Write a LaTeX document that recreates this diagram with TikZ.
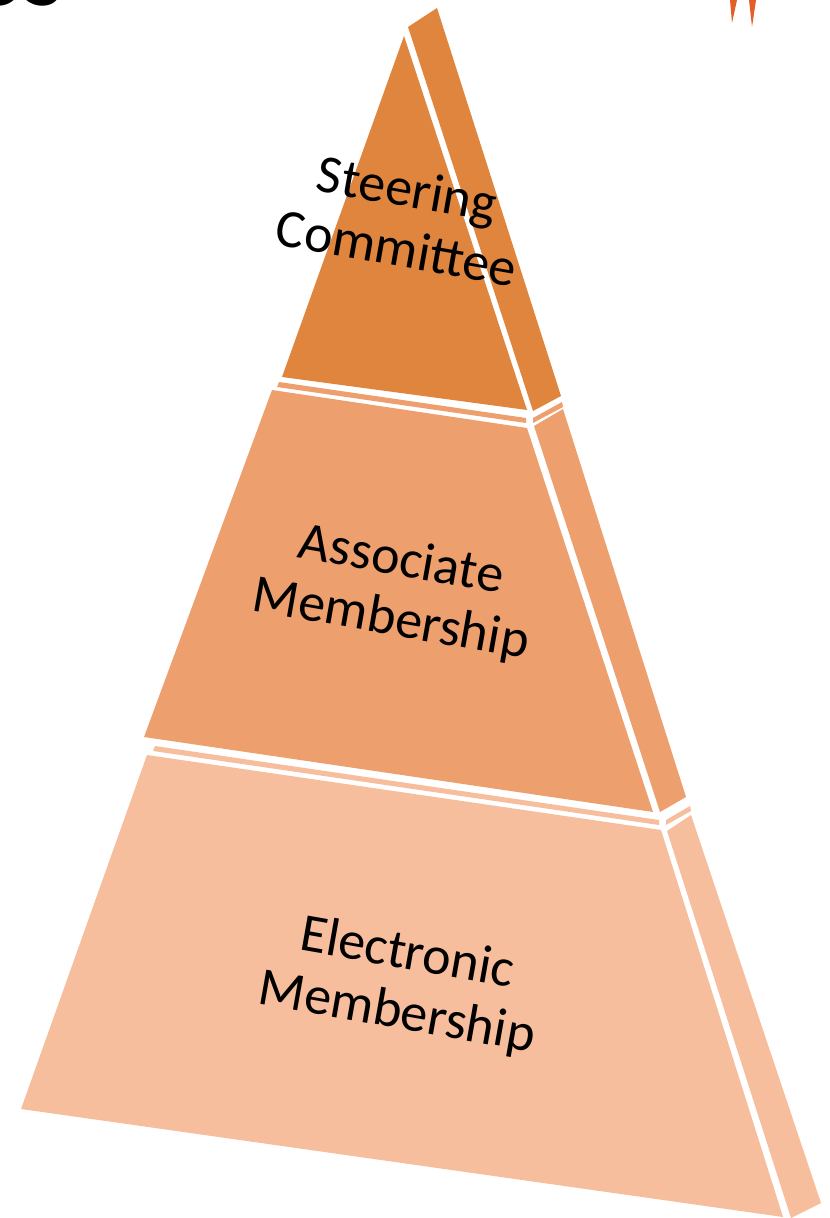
\documentclass[tikz,border=0pt]{standalone}
\usepackage{fontspec}
\setmainfont{Carlito}
\definecolor{topfill}{RGB}{224,133,62}
\definecolor{midfill}{RGB}{237,160,110}
\definecolor{lowfill}{RGB}{247,190,158}
\definecolor{logofill}{RGB}{227,95,40}

\begin{document}
\begin{tikzpicture}[x=0.5pt,y=-0.5pt,
  tierlabel/.style={align=center,rotate=-10,inner sep=0pt,
    font=\fontsize{27}{30}\selectfont}]
\clip (0,0) rectangle (829,1218);

% cut-off title and logo
\node[anchor=base west,inner sep=0pt,font=\fontsize{48}{48}\bfseries\selectfont] (title) at (-28,6) {os};
\fill[logofill] (730,0) -- (737,0) -- (732,23) -- cycle;
\fill[logofill] (749,0) -- (756,0) -- (752,27) -- cycle;

% top tier
\fill[topfill] (404,36) -- (527,410) -- (282,377) -- cycle;
\fill[topfill] (408,27) -- (437,8) -- (561,396) -- (533,411) -- cycle;
% middle tier
\fill[midfill] (279,382) -- (526,418) -- (526,423) -- (277,387) -- cycle;
\fill[midfill] (533,418) -- (562,402) -- (563,407) -- (533,423) -- cycle;
\fill[midfill] (272,390) -- (527,428) -- (653,812) -- (144,737) -- cycle;
\fill[midfill] (534,426) -- (563,409) -- (686,797) -- (660,812) -- cycle;
% bottom tier
\fill[lowfill] (155,746) -- (659,820) -- (659,825) -- (153,751) -- cycle;
\fill[lowfill] (666,820) -- (690,806) -- (691,811) -- (666,825) -- cycle;
\fill[lowfill] (147,755) -- (661,830) -- (783,1217) -- (21,1109) -- cycle;
\fill[lowfill] (667,831) -- (691,815) -- (821,1203) -- (791,1218) -- cycle;

\node[tierlabel] (steering) at (402,218) {Steering\\Committee};
\node[tierlabel] (associate) at (396,591) {Associate\\Membership};
\node[tierlabel] (electronic) at (402,984) {Electronic\\Membership};
\end{tikzpicture}
\end{document}
